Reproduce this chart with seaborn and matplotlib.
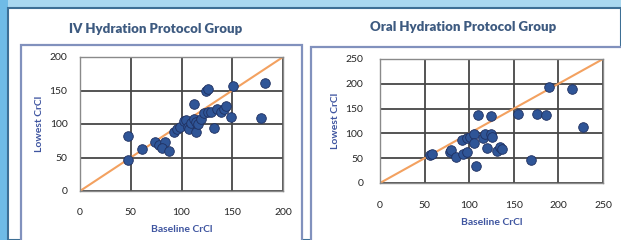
import matplotlib
matplotlib.use("Agg")
import matplotlib.pyplot as plt
from matplotlib.patches import Rectangle
import seaborn as sns
import pandas as pd

# ---- data ----
iv_baseline = [47, 47, 61, 74, 78, 84, 81, 88, 93, 96, 99, 102, 104, 106, 107, 109, 112, 114,
               114, 116, 119, 122, 112, 124, 126, 126, 129, 132, 135, 139, 142, 144, 149, 151, 178, 182]
iv_lowest = [82, 47, 62, 73, 68, 73, 64, 60, 88, 93, 96, 104, 106, 96, 92, 101, 108, 103,
             88, 100, 108, 116, 130, 150, 152, 118, 118, 94, 122, 118, 123, 127, 111, 157, 109, 161]

oral_baseline = [56, 58, 78, 80, 85, 93, 98, 92, 97, 101, 105, 105, 108, 110, 116, 118, 120, 124,
                 124, 126, 131, 135, 137, 155, 169, 176, 186, 189, 215, 228]
oral_lowest = [56, 58, 62, 66, 53, 58, 63, 87, 90, 93, 98, 80, 35, 138, 90, 98, 71, 98,
               136, 93, 65, 73, 68, 139, 46, 139, 137, 193, 190, 112]

titles = ["IV Hydration Protocol Group", "Oral Hydration Protocol Group"]
x_label = "Baseline CrCl"
y_label = "Lowest CrCl"
iv_ticks = [0, 50, 100, 150, 200]
oral_ticks = [0, 50, 100, 150, 200, 250]

sns.set_theme(style="white")
plt.rcParams['font.family'] = ['Lato', 'DejaVu Sans']

fig = plt.figure(figsize=(6.21, 2.40), dpi=100)
W, H = 621, 240

def fx(px):
    return px / W

def fy(py):
    return 1 - py / H

# background
fig.patch.set_facecolor("#a9d8f0")
fig.add_artist(Rectangle((0, 0), fx(8), 1, transform=fig.transFigure,
                         facecolor="#6fbbe6", edgecolor="none", zorder=0))
fig.add_artist(Rectangle((fx(8), 0), 1 - fx(8), fy(8), transform=fig.transFigure,
                         facecolor="white", edgecolor="#3d6f95", linewidth=1.5, zorder=0))
# panel boxes
fig.add_artist(Rectangle((fx(21), 0 - 0.01), fx(302) - fx(21), fy(45) + 0.01, transform=fig.transFigure,
                         facecolor="white", edgecolor="#8191bd", linewidth=1.6, zorder=0.5))
fig.add_artist(Rectangle((fx(311), 0 - 0.01), fx(640) - fx(311), fy(47) + 0.01, transform=fig.transFigure,
                         facecolor="white", edgecolor="#8191bd", linewidth=1.6, zorder=0.5))

ax1 = fig.add_axes([fx(80), fy(191), fx(283) - fx(80), fy(57) - fy(191)])
ax2 = fig.add_axes([fx(380), fy(183), fx(603) - fx(380), fy(59) - fy(183)])

label_color = "#3f55a0"
dot_color = "#2f5597"
edge_color = "#1f3060"
line_color = "#f3a160"

panels = [
    (ax1, iv_baseline, iv_lowest, iv_ticks, 200, 9, 12),
    (ax2, oral_baseline, oral_lowest, oral_ticks, 250, 12, 13),
]
for ax, xb, yl, ticks, lim, ypad, xpad in panels:
    ax.set_zorder(5)
    df = pd.DataFrame({"Baseline": xb, "Lowest": yl})
    diag = pd.DataFrame({"x": [0, lim], "y": [0, lim]})
    ax.set_facecolor("white")
    sns.lineplot(data=diag, x="x", y="y", ax=ax, color=line_color, linewidth=1.5, zorder=2)
    sns.scatterplot(data=df, x="Baseline", y="Lowest", ax=ax, s=48, color=dot_color,
                    edgecolor=edge_color, linewidth=0.6, zorder=3)
    ax.set_xlim(0, lim)
    ax.set_ylim(0, lim)
    ax.set_xticks(ticks)
    ax.set_yticks(ticks)
    ax.grid(True, color="#474747", linewidth=1.3)
    ax.set_axisbelow(True)
    for s in ax.spines.values():
        s.set_visible(True)
        s.set_color("#8a8a8a")
        s.set_linewidth(1.0)
    ax.tick_params(axis="both", length=0, labelsize=7.5, labelcolor="#262626")
    ax.tick_params(axis="y", pad=ypad)
    ax.tick_params(axis="x", pad=xpad)
    ax.set_xlabel(x_label, fontsize=7.5, fontweight="bold", color=label_color, labelpad=6)
    ax.set_ylabel(y_label, fontsize=7.5, fontweight="bold", color=label_color, labelpad=4)

fig.text(fx(156), fy(29), titles[0], ha="center", va="center", fontsize=9.5,
         fontweight="heavy", color="#3d5a80")
fig.text(fx(463), fy(27), titles[1], ha="center", va="center", fontsize=9.5,
         fontweight="heavy", color="#3d5a80")

fig.savefig("out.png", dpi=100)
